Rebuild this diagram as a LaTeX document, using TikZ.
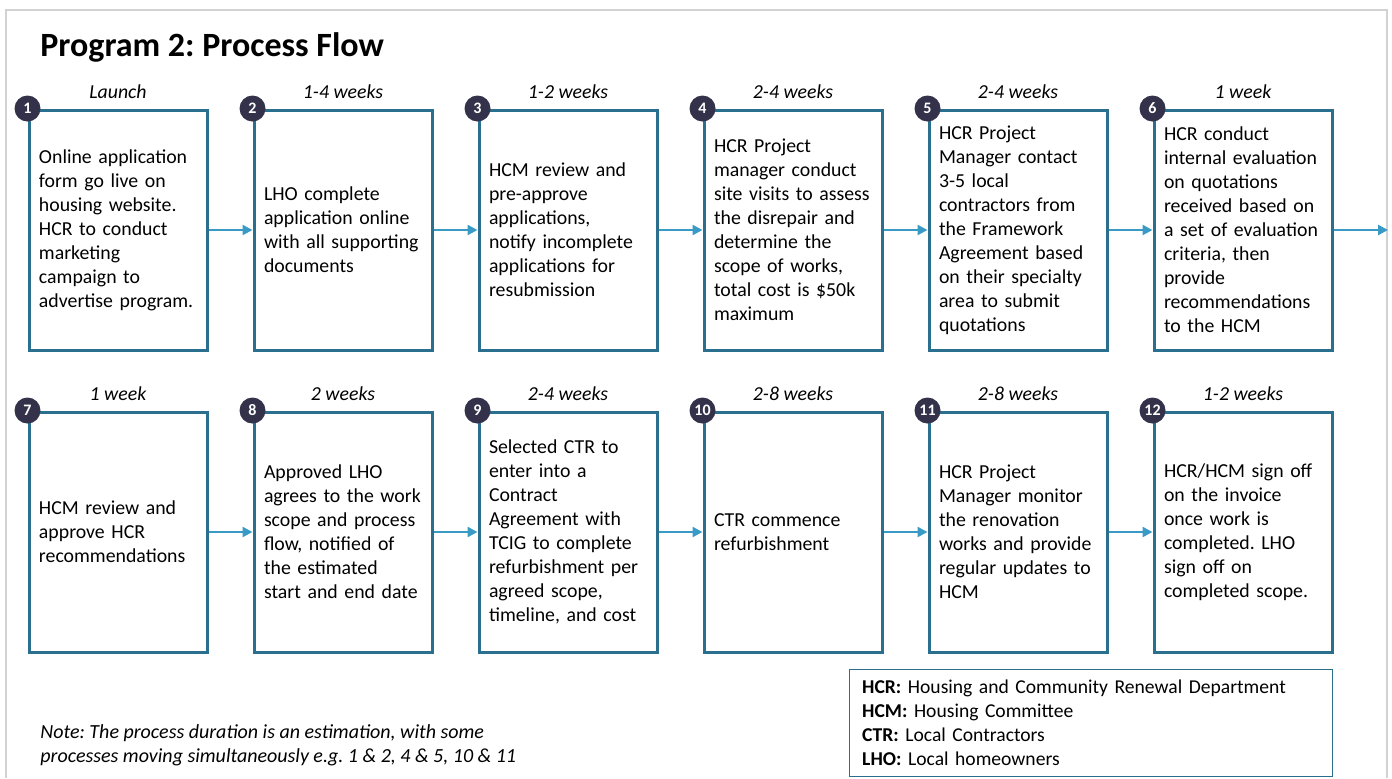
\documentclass[tikz,border=0pt]{standalone}
\usepackage{fontspec}
\setmainfont{Carlito}
\usetikzlibrary{arrows.meta}
\frenchspacing

\definecolor{boxline}{HTML}{2B6F8F}
\definecolor{flowline}{HTML}{3A9AC6}
\definecolor{badge}{HTML}{34314A}
\definecolor{frame}{HTML}{D2D2D2}

\tikzset{
  stepbox/.style={draw=boxline,line width=1.5pt,minimum width=89pt,minimum height=120pt,
    text width=79pt,align=left,inner sep=0pt,font=\fontsize{9.9}{12}\selectfont},
  num/.style={circle,fill=badge,text=white,inner sep=0pt,minimum size=13pt,
    font=\fontsize{8}{8}\selectfont\bfseries},
  dur/.style={font=\fontsize{9.9}{11}\selectfont\itshape},
  flow/.style={draw=flowline,line width=1.2pt,-{Triangle[length=5pt,width=5pt]}}
}

\begin{document}
\begin{tikzpicture}[x=0.5pt,y=-0.5pt]
  \useasboundingbox (0,0) rectangle (1392,778);
  \draw[frame,line width=0.8pt] (6,778) -- (6,10) -- (1387,10) -- (1387,778);

  \node[anchor=west,inner sep=0pt,font=\fontsize{17}{19}\selectfont\bfseries] (title) at (40,47) {Program 2: Process Flow};

  % first row
  \node[stepbox] (s1) at (118,230) {Online application\\form go live on\\housing website.\\HCR to conduct\\marketing\\campaign to\\advertise program.};
  \node[stepbox] (s2) at (343,230) {LHO complete\\application online\\with all supporting\\documents};
  \node[stepbox] (s3) at (568,230) {HCM review and\\pre-approve\\applications,\\notify incomplete\\applications for\\resubmission};
  \node[stepbox] (s4) at (793,230) {HCR Project\\manager conduct\\site visits to assess\\the disrepair and\\determine the\\scope of works,\\total cost is \$50k\\maximum};
  \node[stepbox] (s5) at (1018,230) {HCR Project\\Manager contact\\3-5 local\\contractors from\\the Framework\\Agreement based\\on their specialty\\area to submit\\quotations};
  \node[stepbox] (s6) at (1243,230) {HCR conduct\\internal evaluation\\on quotations\\received based on\\a set of evaluation\\criteria, then\\provide\\recommendations\\to the HCM};

  % second row
  \node[stepbox] (s7) at (118,532) {HCM review and\\approve HCR\\recommendations};
  \node[stepbox] (s8) at (343,532) {Approved LHO\\agrees to the work\\scope and process\\flow, notified of\\the estimated\\start and end date};
  \node[stepbox] (s9) at (568,532) {Selected CTR to\\enter into a\\Contract\\Agreement with\\TCIG to complete\\refurbishment per\\agreed scope,\\timeline, and cost};
  \node[stepbox] (s10) at (793,532) {CTR commence\\refurbishment};
  \node[stepbox] (s11) at (1018,532) {HCR Project\\Manager monitor\\the renovation\\works and provide\\regular updates to\\HCM};
  \node[stepbox] (s12) at (1243,532) {HCR/HCM sign off\\on the invoice\\once work is\\completed. LHO\\sign off on\\completed scope.};

  \coordinate (out) at (1388,230);

  \foreach \from/\to in {s1/s2,s2/s3,s3/s4,s4/s5,s5/s6,s7/s8,s8/s9,s9/s10,s10/s11,s11/s12}
    \draw[flow] (\from.east) -- (\to.west);
  \draw[flow] (s6.east) -- (out);

  \foreach \i/\t in {1/Launch,2/1-4 weeks,3/1-2 weeks,4/2-4 weeks,5/2-4 weeks,6/1 week,
                     7/1 week,8/2 weeks,9/2-4 weeks,10/2-8 weeks,11/2-8 weeks,12/1-2 weeks}
  {
    \node[dur,above=1.5pt] (d\i) at (s\i.north) {\t};
    \node[num] (c\i) at (s\i.north west) {\i};
  }

  % abbreviations
  \node[draw=boxline,line width=0.7pt,anchor=north west,minimum width=241.5pt,minimum height=53.5pt,
        text width=229pt,inner xsep=6pt,align=left,font=\fontsize{9.8}{12}\selectfont] (key) at (849,669)
    {\textbf{HCR:} Housing and Community Renewal Department\\
     \textbf{HCM:} Housing Committee\\
     \textbf{CTR:} Local Contractors\\
     \textbf{LHO:} Local homeowners};

  \node[anchor=north west,inner sep=0pt,align=left,font=\fontsize{10}{12}\selectfont\itshape] (note) at (40,724)
    {Note: The process duration is an estimation, with some\\
     processes moving simultaneously e.g. 1 \& 2, 4 \& 5, 10 \& 11};
\end{tikzpicture}
\end{document}
